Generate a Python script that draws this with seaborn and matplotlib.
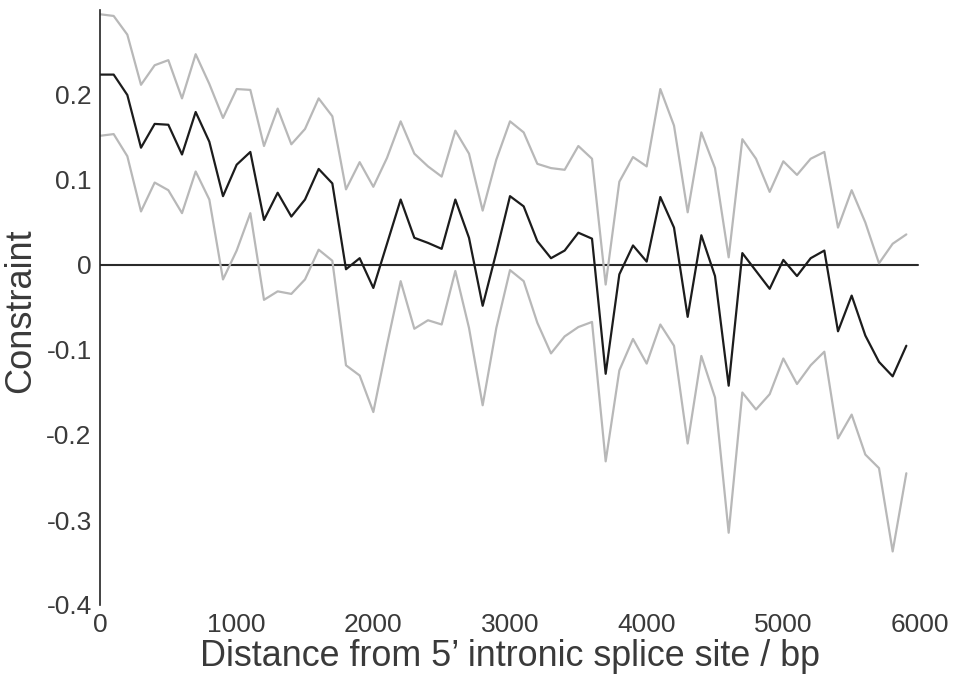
import matplotlib
matplotlib.use("Agg")
import matplotlib.pyplot as plt
import seaborn as sns
import pandas as pd

# Distance from the 5' splice site (bp), one bin every 100 bp
distance = list(range(0, 6000, 100))

# Mean constraint per bin
constraint_mean = [
    0.224, 0.224, 0.200, 0.138, 0.166, 0.165, 0.130, 0.180, 0.145, 0.081,
    0.118, 0.133, 0.053, 0.085, 0.057, 0.077, 0.113, 0.096, -0.005, 0.008,
    -0.027, 0.025, 0.077, 0.032, 0.026, 0.019, 0.077, 0.032, -0.048, 0.015,
    0.081, 0.069, 0.028, 0.008, 0.017, 0.038, 0.031, -0.128, -0.011, 0.023,
    0.004, 0.080, 0.044, -0.061, 0.035, -0.013, -0.142, 0.014, -0.007, -0.028,
    0.006, -0.013, 0.008, 0.017, -0.078, -0.036, -0.083, -0.114, -0.131, -0.095,
]

# Upper confidence bound
constraint_upper = [
    0.295, 0.293, 0.271, 0.212, 0.235, 0.241, 0.196, 0.248, 0.213, 0.173,
    0.207, 0.206, 0.140, 0.184, 0.142, 0.160, 0.196, 0.175, 0.089, 0.121,
    0.092, 0.126, 0.169, 0.131, 0.116, 0.104, 0.158, 0.131, 0.064, 0.124,
    0.169, 0.156, 0.119, 0.114, 0.112, 0.140, 0.125, -0.023, 0.098, 0.127,
    0.116, 0.207, 0.164, 0.062, 0.156, 0.114, 0.009, 0.148, 0.125, 0.086,
    0.122, 0.106, 0.125, 0.133, 0.044, 0.088, 0.050, 0.002, 0.025, 0.036,
]

# Lower confidence bound
constraint_lower = [
    0.152, 0.154, 0.128, 0.063, 0.097, 0.088, 0.061, 0.110, 0.077, -0.017,
    0.017, 0.061, -0.041, -0.031, -0.034, -0.017, 0.018, 0.005, -0.118, -0.130,
    -0.173, -0.094, -0.019, -0.075, -0.065, -0.070, -0.007, -0.074, -0.165, -0.074,
    -0.006, -0.019, -0.068, -0.104, -0.084, -0.073, -0.067, -0.231, -0.124, -0.087,
    -0.116, -0.070, -0.095, -0.210, -0.107, -0.156, -0.315, -0.150, -0.170, -0.152,
    -0.110, -0.140, -0.118, -0.102, -0.204, -0.176, -0.223, -0.239, -0.337, -0.245,
]

x_ticks = [0, 1000, 2000, 3000, 4000, 5000, 6000]
y_ticks = [-0.4, -0.3, -0.2, -0.1, 0.0, 0.1, 0.2]
y_tick_labels = ["-0.4", "-0.3", "-0.2", "-0.1", "0", "0.1", "0.2"]

sns.set_theme(style="white")
plt.rcParams["font.family"] = ["Liberation Sans", "DejaVu Sans"]

df = pd.DataFrame({
    "distance": distance,
    "mean": constraint_mean,
    "upper": constraint_upper,
    "lower": constraint_lower,
})

fig = plt.figure(figsize=(9.58, 6.78), dpi=100)
ax = fig.add_axes([100 / 958, 73 / 678, 820 / 958, 595 / 678])

grey = "#b8b8b8"
sns.lineplot(data=df, x="distance", y="upper", ax=ax, color=grey, lw=1.6)
sns.lineplot(data=df, x="distance", y="lower", ax=ax, color=grey, lw=1.6)
ax.axhline(0, color="#2a2a2a", lw=1.5, xmax=0.998, zorder=1)
sns.lineplot(data=df, x="distance", y="mean", ax=ax, color="#1c1c1c", lw=1.6)

ax.set_xlim(0, 6000)
ax.set_ylim(-0.4, 0.3)
ax.set_xticks(x_ticks)
ax.set_xticklabels([str(t) for t in x_ticks])
ax.set_yticks(y_ticks)
ax.set_yticklabels(y_tick_labels)
ax.tick_params(axis="both", length=0, labelsize=19, colors="#3a3a3a")
ax.tick_params(axis="y", pad=6)
ax.tick_params(axis="x", pad=6)

for side in ["top", "right", "bottom"]:
    ax.spines[side].set_visible(False)
ax.spines["left"].set_color("#222222")
ax.spines["left"].set_linewidth(1.2)

ax.set_xlabel("Distance from 5\u2019 intronic splice site / bp", fontsize=25.8,
              color="#3a3a3a", labelpad=1)
ax.set_ylabel("Constraint", fontsize=26, color="#3a3a3a")
ax.yaxis.set_label_coords(-0.075, 0.495)

fig.savefig("out.png", dpi=100, facecolor="white")
